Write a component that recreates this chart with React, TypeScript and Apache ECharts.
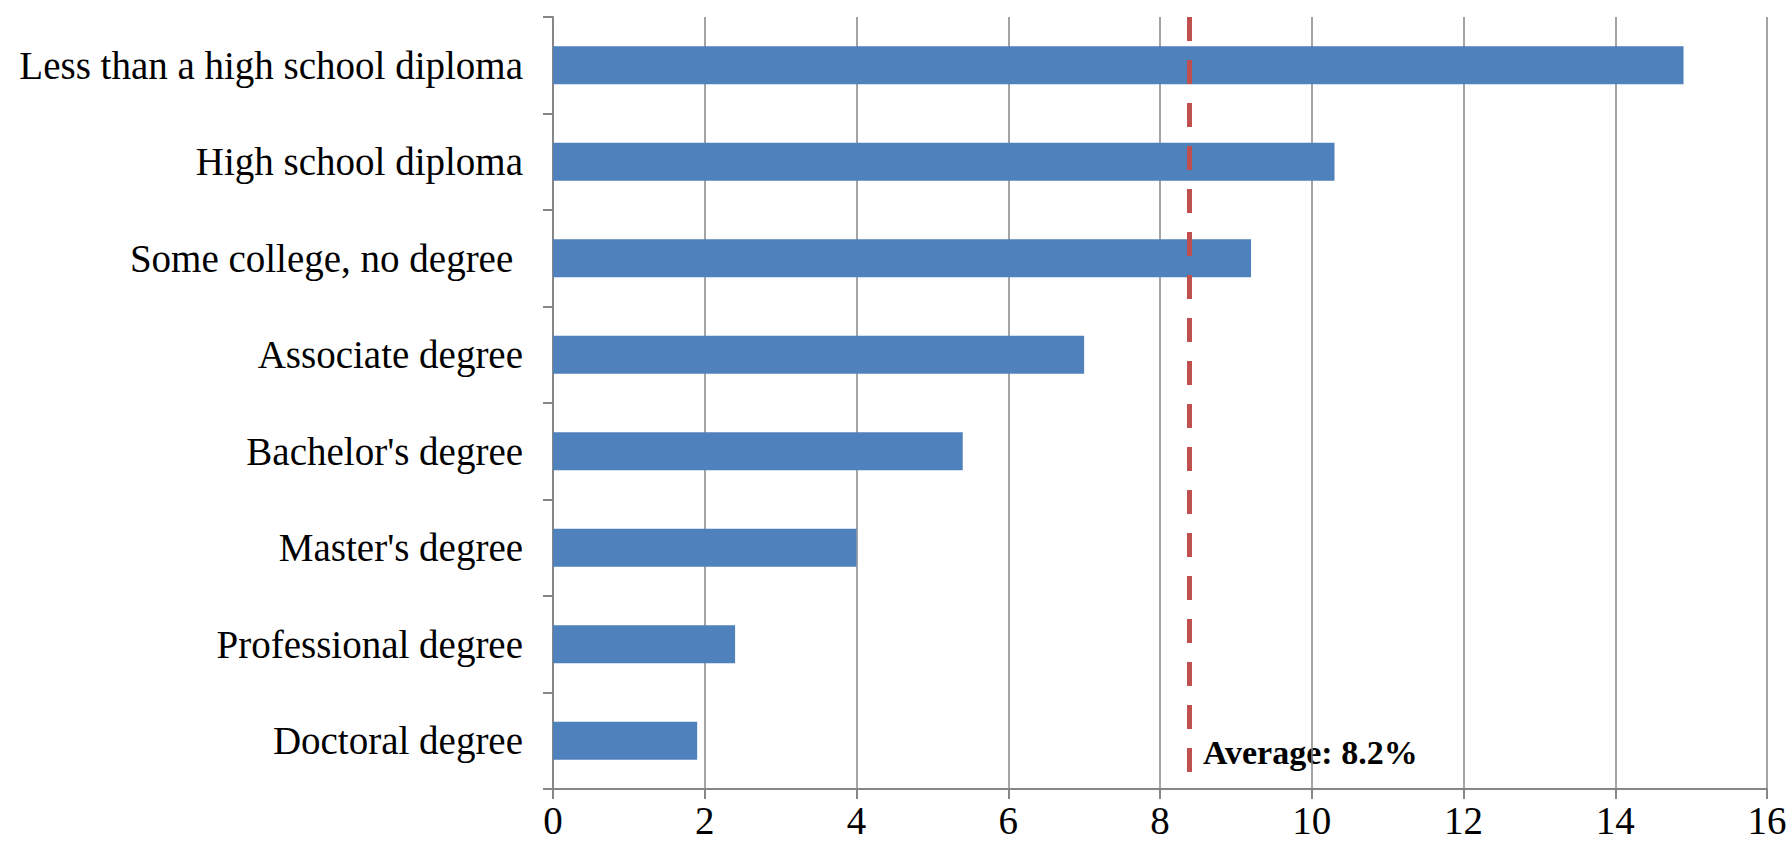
import React, { useEffect, useRef } from "react";
import * as echarts from "echarts";

const categories = [
  "Less than a high school diploma",
  "High school diploma",
  "Some college, no degree ",
  "Associate degree",
  "Bachelor's degree",
  "Master's degree",
  "Professional degree",
  "Doctoral degree",
];
const values = [14.9, 10.3, 9.2, 7.0, 5.4, 4.0, 2.4, 1.9];
const averageLinePos = 8.38;
const averageLabel = "Average: 8.2%";
const xMin = 0;
const xMax = 16;
const xInterval = 2;

const FONT = '"Liberation Serif", "Times New Roman", serif';

export default function App() {
  const ref = useRef<HTMLDivElement>(null);
  useEffect(() => {
    if (!ref.current) return;
    const chart = echarts.init(ref.current, null, { renderer: "svg" });
    chart.setOption({
      animation: false,
      backgroundColor: "#ffffff",
      grid: { left: 553, right: 25, top: 17, bottom: 63, containLabel: false },
      xAxis: {
        type: "value",
        min: xMin,
        max: xMax,
        interval: xInterval,
        axisLine: { show: true, lineStyle: { color: "#868686", width: 2 } },
        axisTick: { show: true, length: 10, lineStyle: { color: "#868686", width: 2 } },
        splitLine: { show: true, lineStyle: { color: "#868686", width: 1.5 } },
        axisLabel: { color: "#000", fontFamily: FONT, fontSize: 39, margin: 12 },
      },
      yAxis: {
        type: "category",
        data: categories,
        inverse: true,
        axisLine: { show: true, lineStyle: { color: "#868686", width: 2 } },
        axisTick: { show: true, length: 10, lineStyle: { color: "#868686", width: 2 } },
        axisLabel: { color: "#000", fontFamily: FONT, fontSize: 39, margin: 30 },
      },
      series: [
        {
          type: "bar",
          data: values,
          barWidth: 38,
          itemStyle: { color: "#4F81BD" },
          markLine: {
            silent: true,
            symbol: "none",
            label: { show: false },
            lineStyle: { color: "#C0504D", width: 5, type: [24, 19] },
            data: [{ xAxis: averageLinePos }],
          },
        },
      ],
      graphic: [
        {
          type: "text",
          left: 1203,
          top: 735,
          style: {
            text: averageLabel,
            fill: "#000",
            font: `bold 34px ${FONT}`,
          },
        },
      ],
    });
    return () => chart.dispose();
  }, []);
  return (
    <div
      ref={ref}
      style={{ position: "fixed", left: 0, top: 0, width: 1792, height: 852 }}
    />
  );
}
